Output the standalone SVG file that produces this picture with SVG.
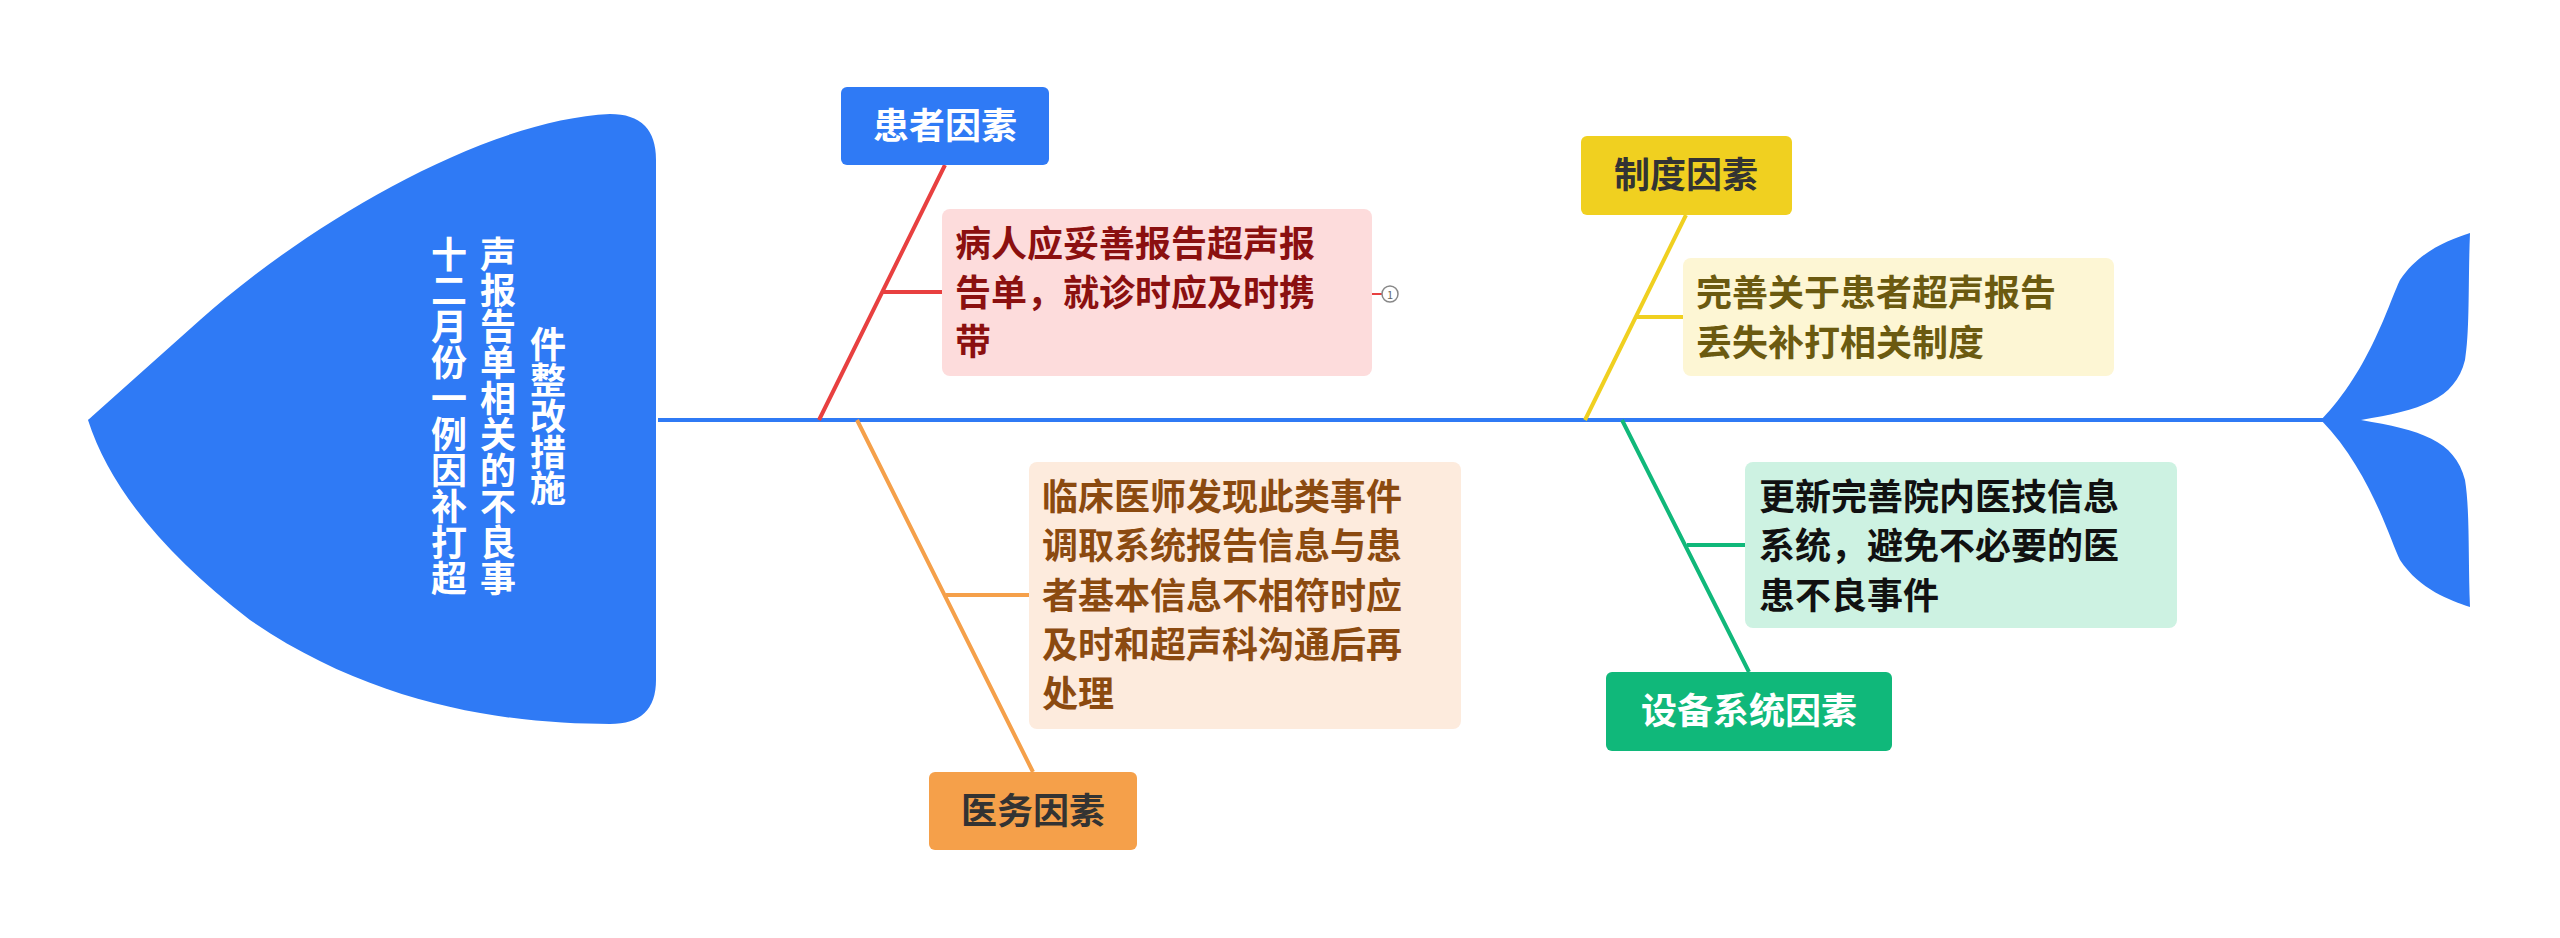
<svg xmlns="http://www.w3.org/2000/svg" width="2560" height="938" viewBox="0 0 2560 938">
<style>
text{font-family:"Noto Sans CJK SC","Noto Sans",sans-serif;font-weight:bold;font-size:36px}
.w{fill:#fff}.d{fill:#333}
.ln{fill:none;stroke-width:4}
</style>
<rect width="2560" height="938" fill="#fff"/>
<g id="head">
<path d="M656,160 Q656,114 610,114 C480,120 300,230 200,320 Q88,420 88,420 Q120,520 250,620 C380,710 520,724 610,724 Q656,724 656,680 Z" fill="#2f7af5"/>
<text class="w" x="449" y="416" text-anchor="middle" style="writing-mode:vertical-rl">十二月份一例因补打超</text>
<text class="w" x="498" y="416" text-anchor="middle" style="writing-mode:vertical-rl">声报告单相关的不良事</text>
<text class="w" x="548" y="416" text-anchor="middle" style="writing-mode:vertical-rl">件整改措施</text>
</g>
<g id="tail">
<path d="M2321,420 C2370,370 2390,300 2400,280 C2420,250 2450,240 2470,233 C2468,280 2470,330 2465,360 C2455,400 2420,410 2361,420 C2420,430 2455,440 2465,480 C2470,510 2468,560 2470,607 C2450,600 2420,590 2400,560 C2390,540 2370,470 2321,420 Z" fill="#2f7af5"/>
</g>
<g id="connectors">
<line x1="658" y1="420" x2="2325" y2="420" stroke="#2f7af5" stroke-width="4"/>
<path class="ln" stroke="#e84040" d="M945,165 L819,420 M882,292 H942"/>
<path class="ln" stroke="#f5a04a" d="M857,420 L1033,772 M946,595 H1029"/>
<path class="ln" stroke="#f0d020" d="M1686,215 L1585,420 M1637,317 H1683"/>
<path class="ln" stroke="#10b87a" d="M1622,420 L1749,672 M1687,545 H1745"/>
<path d="M1372,294 H1382" stroke="#e84040" stroke-width="2"/>
<circle cx="1390" cy="294" r="8" fill="#fff" stroke="#888" stroke-width="1.5"/>
<text x="1390" y="299" text-anchor="middle" style="font-size:11px;font-weight:normal;fill:#666">1</text>
</g>
<g id="n1">
<rect x="841" y="87" width="208" height="78" rx="6" fill="#2f7af5"/>
<text class="w" x="945" y="139" text-anchor="middle">患者因素</text>
</g>
<g id="n1a">
<rect x="942" y="209" width="430" height="167" rx="8" fill="#fddcdc"/>
<text fill="#8b1010" x="955"><tspan y="257">病人应妥善报告超声报</tspan><tspan x="955" y="306">告单，就诊时应及时携</tspan><tspan x="955" y="355">带</tspan></text>
</g>
<g id="n2">
<rect x="929" y="772" width="208" height="78" rx="6" fill="#f5a04a"/>
<text class="d" x="1033" y="824" text-anchor="middle">医务因素</text>
</g>
<g id="n2a">
<rect x="1029" y="462" width="432" height="267" rx="8" fill="#fdebdd"/>
<text fill="#8b4a10" x="1042"><tspan y="510">临床医师发现此类事件</tspan><tspan x="1042" y="559">调取系统报告信息与患</tspan><tspan x="1042" y="609">者基本信息不相符时应</tspan><tspan x="1042" y="658">及时和超声科沟通后再</tspan><tspan x="1042" y="707">处理</tspan></text>
</g>
<g id="n3">
<rect x="1581" y="136" width="211" height="79" rx="6" fill="#f0d020"/>
<text class="d" x="1686" y="188" text-anchor="middle">制度因素</text>
</g>
<g id="n3a">
<rect x="1683" y="258" width="431" height="118" rx="8" fill="#fdf6d4"/>
<text fill="#6b5a10" x="1696"><tspan y="306">完善关于患者超声报告</tspan><tspan x="1696" y="356">丢失补打相关制度</tspan></text>
</g>
<g id="n4">
<rect x="1606" y="672" width="286" height="79" rx="6" fill="#10b87a"/>
<text class="w" x="1749" y="724" text-anchor="middle">设备系统因素</text>
</g>
<g id="n4a">
<rect x="1745" y="462" width="432" height="166" rx="8" fill="#cdf2e2"/>
<text fill="#111" x="1759"><tspan y="510">更新完善院内医技信息</tspan><tspan x="1759" y="559">系统，避免不必要的医</tspan><tspan x="1759" y="609">患不良事件</tspan></text>
</g>
</svg>
